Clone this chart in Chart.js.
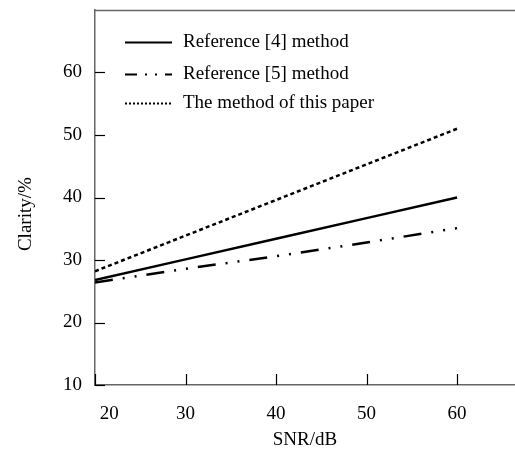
<!DOCTYPE html>
<html>
<head>
<meta charset="utf-8">
<script src="https://cdn.jsdelivr.net/npm/chart.js@4.4.0/dist/chart.umd.min.js"></script>
<style>
  html, body { margin: 0; padding: 0; background: #fff; }
  #wrap { width: 515px; height: 462px; }
</style>
</head>
<body>
<div id="wrap"><canvas id="chart"></canvas></div>
<script>
  "use strict";

  // data
  const snr = [20, 30, 40, 50, 60];
  const ref4 = [26.8, 30.1, 33.4, 36.7, 40.0];
  const ref5 = [26.4, 28.6, 30.6, 32.8, 35.1];
  const ours = [28.2, 33.9, 39.6, 45.3, 51.0];
  const seriesNames = ["Reference [4] method", "Reference [5] method", "The method of this paper"];
  const xTicks = [20, 30, 40, 50, 60];
  const yTicks = [10, 20, 30, 40, 50, 60];

  const FONT = "'Liberation Serif', 'Times New Roman', serif";

  function points(ys) {
    return snr.map((x, i) => ({ x: x, y: ys[i] }));
  }

  /**
   * Inward ticks, top frame line and the legend inside the plot
   */
  const framePlugin = {
    id: "frame",
    afterDraw(chart) {
      const ctx = chart.ctx;
      const area = chart.chartArea;
      const xs = chart.scales.x;
      const ys = chart.scales.y;
      ctx.save();
      ctx.strokeStyle = "#000";
      ctx.lineWidth = 1.2;
      xTicks.forEach((v) => {
        const px = Math.round(xs.getPixelForValue(v)) + 0.5;
        ctx.beginPath();
        ctx.moveTo(px, area.bottom);
        ctx.lineTo(px, area.bottom - 11);
        ctx.stroke();
      });
      yTicks.forEach((v) => {
        const py = Math.round(ys.getPixelForValue(v)) + 0.5;
        ctx.beginPath();
        ctx.moveTo(area.left, py);
        ctx.lineTo(area.left + 10, py);
        ctx.stroke();
      });
      // top frame
      ctx.strokeStyle = "#666";
      ctx.lineWidth = 1.5;
      ctx.beginPath();
      ctx.moveTo(area.left, area.top + 0.5);
      ctx.lineTo(area.right, area.top + 0.5);
      ctx.stroke();

      // legend
      const rowY = [42, 74, 103];
      ctx.font = "19px " + FONT;
      ctx.textBaseline = "middle";
      ctx.fillStyle = "#000";
      chart.data.datasets.forEach((ds, i) => {
        const y = rowY[i] + 0.5;
        ctx.strokeStyle = ds.borderColor;
        ctx.lineWidth = 2;
        ctx.setLineDash(ds.legendDash || ds.borderDash || []);
        ctx.beginPath();
        ctx.moveTo(125, y);
        ctx.lineTo(172, y);
        ctx.stroke();
        ctx.setLineDash([]);
        ctx.fillText(ds.label, 183, y);
      });
      ctx.restore();
    },
  };

  new Chart(document.getElementById("chart"), {
    type: "line",
    data: {
      datasets: [
        {
          label: seriesNames[0],
          data: points(ref4),
          borderColor: "#000",
          borderWidth: 2.5,
          pointRadius: 0,
          tension: 0,
        },
        {
          label: seriesNames[1],
          data: points(ref5),
          borderColor: "#000",
          borderWidth: 2.5,
          borderDash: [18, 10, 2, 10, 2, 10],
          legendDash: [12, 8, 2, 8, 2, 8],
          pointRadius: 0,
          tension: 0,
        },
        {
          label: seriesNames[2],
          data: points(ours),
          borderColor: "#000",
          borderWidth: 2.5,
          borderDash: [4, 3],
          legendDash: [2, 2],
          pointRadius: 0,
          tension: 0,
        },
      ],
    },
    options: {
      responsive: true,
      maintainAspectRatio: false,
      animation: false,
      layout: { padding: { top: 10, right: 0, left: 0, bottom: 0 } },
      plugins: {
        legend: { display: false },
        tooltip: { enabled: false },
      },
      scales: {
        x: {
          type: "linear",
          min: 20,
          max: 66.4,
          afterBuildTicks: (scale) => {
            scale.ticks = xTicks.map((v) => ({ value: v }));
          },
          afterFit: (scale) => {
            scale.height = 77;
          },
          ticks: {
            color: "#000",
            padding: 18,
            maxRotation: 0,
            font: { family: FONT, size: 19 },
            // first label sits a little right of the corner in the original
            callback: (v) => (v === 20 ? "      20" : String(v)),
          },
          grid: { display: false, drawTicks: false },
          border: { display: true, color: "#666", width: 1.5 },
          title: {
            display: true,
            text: "SNR/dB",
            color: "#000",
            font: { family: FONT, size: 19 },
            padding: { top: 0, bottom: 11 },
          },
        },
        y: {
          type: "linear",
          min: 10,
          max: 70,
          afterBuildTicks: (scale) => {
            scale.ticks = yTicks.map((v) => ({ value: v }));
          },
          afterFit: (scale) => {
            scale.width = 95;
            scale.paddingTop = 0;
            scale.paddingBottom = 0;
          },
          ticks: {
            color: "#000",
            padding: 13,
            font: { family: FONT, size: 19 },
            callback: (v) => String(v),
          },
          grid: { display: false, drawTicks: false },
          border: { display: true, color: "#666", width: 1.5 },
          title: {
            display: true,
            text: "Clarity/%       ",
            color: "#000",
            font: { family: FONT, size: 19 },
            padding: { top: 15, bottom: 0 },
          },
        },
      },
    },
    plugins: [framePlugin],
  });
</script>
</body>
</html>
